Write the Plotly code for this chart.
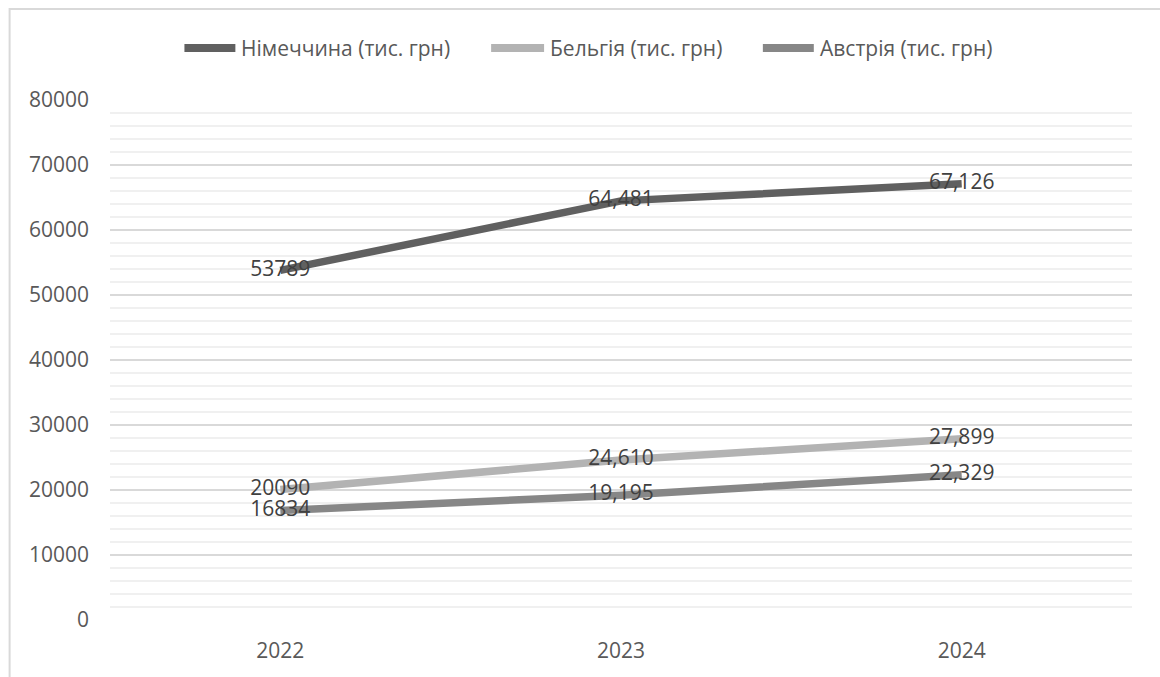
import plotly.graph_objects as go

years = ["2022", "2023", "2024"]
germany = [53789, 64481, 67126]
belgium = [20090, 24610, 27899]
austria = [16834, 19195, 22329]
series_names = ["Німеччина (тис. грн)", "Бельгія (тис. грн)", "Австрія (тис. грн)"]
colors = ["#606060", "#b3b3b3", "#878787"]

def labels(vals):
    return [f"{v}" if i == 0 else f"{v:,}" for i, v in enumerate(vals)]

FONT = "Open Sans"
FS = 21
fig = go.Figure()
for name, vals, col in zip(series_names, [germany, belgium, austria], colors):
    fig.add_trace(go.Scatter(
        x=years, y=vals, name=name, mode="lines+text",
        line=dict(color=col, width=7.5),
        text=labels(vals), textposition="middle center",
        textfont=dict(family=FONT, size=FS, color="#404040"),
        cliponaxis=False, showlegend=False,
    ))

W, H = 1160, 677
L, R, T, B = 109.5, 27.5, 100, 57
pw, ph = W - L - R, H - T - B

def px(x):
    return (x - L) / pw

def py(y):
    return 1 - (y - T) / ph

# legend layout (pixel positions of symbol start/end and text start)
leg_y = 48
leg_items = [(181, 238), (488, 547), (760, 817)]

shapes = [
    dict(type="rect", xref="paper", yref="paper",
         x0=px(9), x1=px(1170), y0=py(690), y1=py(9),
         line=dict(color="#d9d9d9", width=2), layer="below"),
]
annotations = []
for (x0, x1), name, col in zip(leg_items, series_names, colors):
    shapes.append(dict(type="line", xref="paper", yref="paper",
                       x0=px(x0 + 3), x1=px(x1 - 3), y0=py(leg_y), y1=py(leg_y),
                       line=dict(color=col, width=8)))
    annotations.append(dict(xref="paper", yref="paper", x=px(x1 + 1), y=py(leg_y),
                            xanchor="left", yanchor="middle", showarrow=False,
                            text=name, font=dict(family=FONT, size=FS, color="#595959")))

fig.update_layout(
    width=W, height=H,
    margin=dict(l=L, r=R, t=T, b=B),
    paper_bgcolor="white", plot_bgcolor="white",
    font=dict(family=FONT, size=FS, color="#595959"),
    showlegend=False,
    xaxis=dict(type="category", range=[-0.5, 2.5], showgrid=False, zeroline=False,
               showline=False, ticks="", ticklabelstandoff=16,
               tickfont=dict(size=FS, color="#595959")),
    yaxis=dict(range=[0, 80000], dtick=10000, tick0=0, showgrid=True,
               gridcolor="#d9d9d9", gridwidth=2, zeroline=False, showline=False,
               ticks="", tickformat="d", ticklabelstandoff=20,
               tickfont=dict(size=FS, color="#595959"),
               minor=dict(dtick=2000, showgrid=True, gridcolor="#f0f0f0", gridwidth=2)),
    shapes=shapes,
    annotations=annotations,
)
fig.write_html("out.html")
